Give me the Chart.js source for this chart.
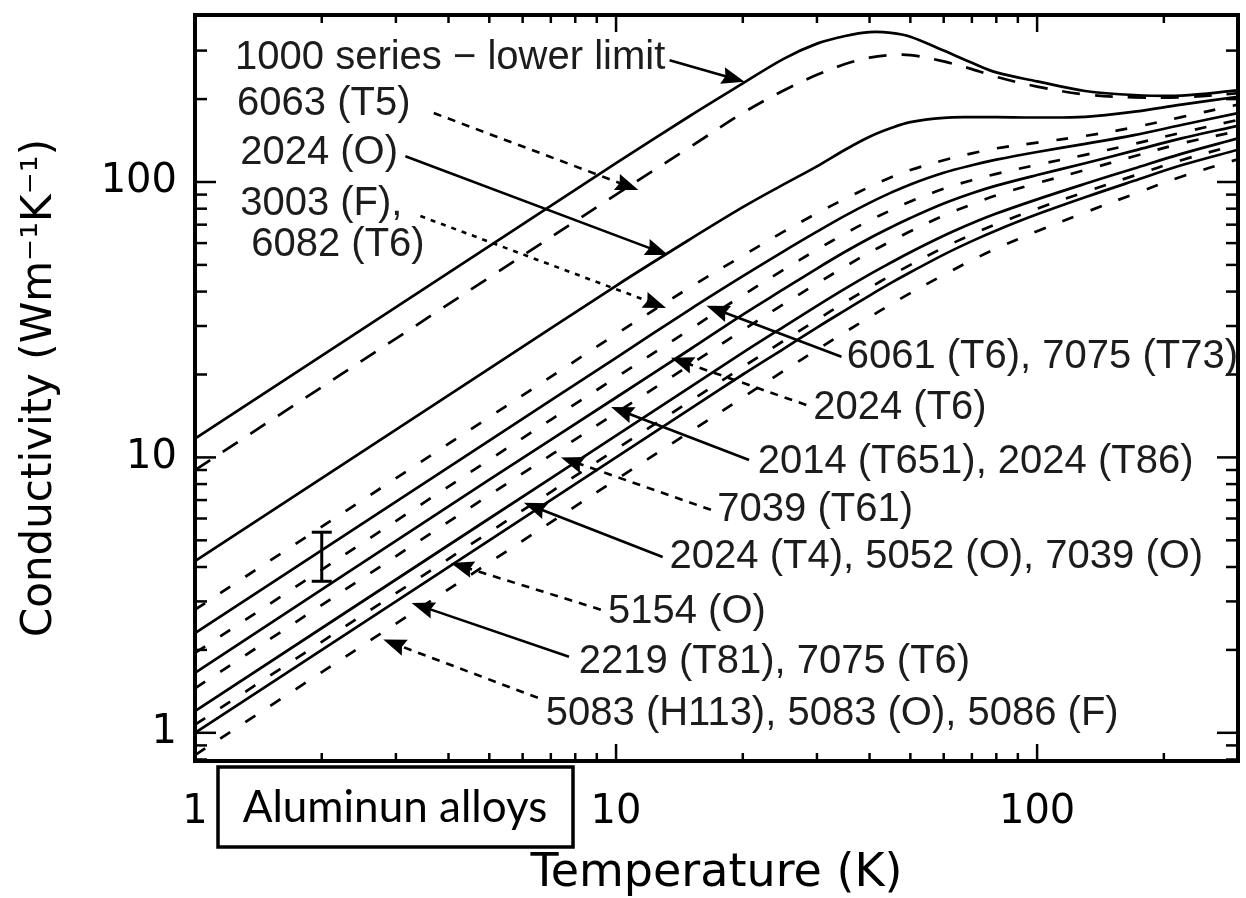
<!DOCTYPE html>
<html>
<head>
<meta charset="utf-8">
<script src="https://cdn.jsdelivr.net/npm/chart.js@4.4.1/dist/chart.umd.min.js"></script>
<style>
  html, body { margin: 0; padding: 0; background: #fff; }
  #wrap { width: 1246px; height: 898px; }
</style>
</head>
<body>
<div id="wrap"><canvas id="myChart" width="1246" height="898"></canvas></div>
<script>
// temperature grid (K) shared by every curve
const temps = [1, 5, 10, 15, 20, 25, 30, 35, 40, 45, 50, 60, 70, 80, 100, 130, 170, 220, 300];

// thermal conductivity (W m^-1 K^-1), top curve to bottom curve
const al1000 = [11.7, 58.5, 117, 174, 228, 280, 318, 339, 350, 348, 337, 300, 271, 250, 232, 214, 207, 206, 215];
const al6063T5 = [9.0, 45, 90, 134, 178, 215, 245, 268, 283, 289, 289, 274, 257, 241, 222, 208, 203, 203, 210];
const al2024O = [4.2, 21, 42, 62, 81, 98, 114, 131, 146, 157, 165, 171, 172, 172, 171.5, 172.5, 180, 191, 204];
const al3003F = [2.8, 14, 28, 41.5, 54, 66, 77, 87, 96, 104, 110.5, 120, 127, 132.5, 139, 147, 158, 172, 191];
const al6061T6 = [2.3, 11.5, 23, 34.5, 45.5, 56, 66, 75.5, 84, 91.5, 98, 108, 115, 120.5, 128.5, 137.5, 148, 161, 178];
const al2024T6 = [1.95, 9.8, 19.5, 29.2, 38.8, 48, 56.8, 65, 72.5, 79, 85, 94.5, 101.5, 107, 115.5, 125.5, 137.5, 151, 168];
const al2014T651 = [1.65, 8.3, 16.5, 24.7, 33, 40.8, 48.5, 55.8, 62.5, 68.5, 74, 83.5, 91, 97, 106, 117, 130, 144, 160];
const al7039T61 = [1.45, 7.3, 14.5, 21.7, 29, 36, 42.8, 49.3, 55.5, 61, 66.2, 75.5, 83, 89.5, 99, 110.5, 124, 138, 153];
const al2024T4 = [1.2, 6.0, 12, 18, 24, 29.8, 35.5, 41, 46.2, 51, 55.6, 63.8, 70.8, 76.8, 86.5, 98.5, 112, 126.5, 144];
const al5154O = [1.07, 5.35, 10.7, 16, 21.3, 26.5, 31.6, 36.6, 41.3, 45.8, 50, 57.8, 64.5, 70.3, 80, 92, 105.5, 120, 137];
const al2219T81 = [1.0, 5.0, 10, 15, 20, 24.8, 29.6, 34.2, 38.7, 43, 47, 54.5, 61, 66.7, 76.3, 88, 101, 115, 131];
const al5083 = [0.83, 4.15, 8.3, 12.4, 16.5, 20.6, 24.6, 28.5, 32.3, 36, 39.5, 46, 52, 57.3, 66.3, 77.5, 90.5, 104.5, 121];

const seriesNames = [
  "1000 series \u2212 lower limit", "6063 (T5)", "2024 (O)", "3003 (F), 6082 (T6)",
  "6061 (T6), 7075 (T73)", "2024 (T6)", "2014 (T651), 2024 (T86)", "7039 (T61)",
  "2024 (T4), 5052 (O), 7039 (O)", "5154 (O)", "2219 (T81), 7075 (T6)",
  "5083 (H113), 5083 (O), 5086 (F)"
];
const seriesValues = [al1000, al6063T5, al2024O, al3003F, al6061T6, al2024T6,
  al2014T651, al7039T61, al2024T4, al5154O, al2219T81, al5083];

// typical scatter shown at 2 K
const errT = 2;
const errLow = 3.55;
const errHigh = 5.35;

// axis ticks
const xTickValues = [1, 2, 3, 4, 5, 6, 7, 8, 9, 10, 20, 30, 40, 50, 60, 70, 80, 90, 100, 200, 300];
const yTickValues = [0.8, 0.9, 1, 2, 3, 4, 5, 6, 7, 8, 9, 10, 20, 30, 40, 50, 60, 70, 80, 90, 100, 200, 300];
const decadeTicks = [1, 10, 100];

// label anchors and arrows, in (temperature, conductivity)
const notes = [
  { text: [seriesNames[0]], at: [1.245, 282], from: [13.4, 277], to: [20.2, 231], dash: [] },
  { text: [seriesNames[1]], at: [1.259, 192], from: [3.69, 178], to: [11.3, 93.5], dash: [8, 7] },
  { text: [seriesNames[2]], at: [1.28, 127], from: [3.16, 124], to: [13.3, 54.3], dash: [] },
  { text: ["3003 (F),", " 6082 (T6)"], at: [1.28, 83.2], from: [3.43, 75.2], to: [13.15, 34.9], dash: [5, 6] },
  { text: [seriesNames[4]], at: [35.3, 23.2], from: [34.3, 23.2], to: [16.4, 35.5], dash: [] },
  { text: [seriesNames[5]], at: [29.4, 15.1], from: [28.3, 15.5], to: [13.5, 23.0], dash: [8, 7] },
  { text: [seriesNames[6]], at: [21.7, 9.63], from: [20.7, 9.79], to: [9.73, 15.25], dash: [] },
  { text: [seriesNames[7]], at: [17.4, 6.45], from: [16.8, 6.45], to: [7.4, 10.0], dash: [8, 7] },
  { text: [seriesNames[8]], at: [13.4, 4.35], from: [12.9, 4.35], to: [6.04, 6.84], dash: [] },
  { text: [seriesNames[9]], at: [9.57, 2.75], from: [9.2, 2.8], to: [4.05, 4.14], dash: [8, 7] },
  { text: [seriesNames[10]], at: [8.16, 1.81], from: [7.73, 1.89], to: [3.27, 2.96], dash: [] },
  { text: [seriesNames[11]], at: [6.81, 1.17], from: [6.52, 1.34], to: [2.8, 2.18], dash: [8, 7] }
];

function line(ctx, x0, y0, x1, y1) {
  ctx.beginPath();
  ctx.moveTo(x0, y0);
  ctx.lineTo(x1, y1);
  ctx.stroke();
}

function arrow(ctx, x0, y0, x1, y1, dash) {
  const ang = Math.atan2(y1 - y0, x1 - x0);
  const c = Math.cos(ang), s = Math.sin(ang);
  const head = 23, half = 8.5;
  const bx = x1 - head * c, by = y1 - head * s;
  ctx.setLineDash(dash);
  line(ctx, x0, y0, bx + 4 * c, by + 4 * s);
  ctx.setLineDash([]);
  ctx.beginPath();
  ctx.moveTo(x1, y1);
  ctx.lineTo(bx - half * s, by + half * c);
  ctx.lineTo(bx + 3 * c, by + 3 * s);
  ctx.lineTo(bx + half * s, by - half * c);
  ctx.closePath();
  ctx.fill();
}

// frame, inward ticks, error bar, arrows and the alloy labels
const annotate = {
  id: "annotate",
  afterDatasetsDraw(chart) {
    const { ctx, chartArea: a, scales: { x, y } } = chart;
    ctx.save();
    ctx.strokeStyle = "#000";
    ctx.fillStyle = "#000";
    ctx.lineCap = "butt";

    ctx.lineWidth = 2.5;
    xTickValues.forEach(v => {
      const px = x.getPixelForValue(v);
      const len = decadeTicks.includes(v) ? 17 : 8;
      line(ctx, px, a.bottom, px, a.bottom - len);
      line(ctx, px, a.top, px, a.top + len);
    });
    yTickValues.forEach(v => {
      const py = y.getPixelForValue(v);
      const len = decadeTicks.includes(v) ? 21 : 12;
      line(ctx, a.left, py, a.left + len, py);
      line(ctx, a.right, py, a.right - len, py);
    });

    // error bar
    ctx.lineWidth = 3;
    const ex = x.getPixelForValue(errT);
    const ey0 = y.getPixelForValue(errLow), ey1 = y.getPixelForValue(errHigh);
    line(ctx, ex, ey0, ex, ey1);
    line(ctx, ex - 10, ey0, ex + 10, ey0);
    line(ctx, ex - 10, ey1, ex + 10, ey1);

    // arrows
    ctx.lineWidth = 2.6;
    notes.forEach(n => {
      arrow(ctx, x.getPixelForValue(n.from[0]), y.getPixelForValue(n.from[1]),
        x.getPixelForValue(n.to[0]), y.getPixelForValue(n.to[1]), n.dash);
    });

    ctx.fillStyle = "#1c1c1c";
    ctx.font = '40px "Liberation Sans", Arial, sans-serif';
    ctx.textAlign = "left";
    ctx.textBaseline = "middle";
    notes.forEach(n => {
      const lx = x.getPixelForValue(n.at[0]);
      const ly = y.getPixelForValue(n.at[1]);
      n.text.forEach((t, i) => ctx.fillText(t, lx, ly + i * 41));
    });

    // plot frame
    ctx.lineWidth = 4;
    ctx.strokeStyle = "#000";
    ctx.strokeRect(a.left, a.top, a.right - a.left, a.bottom - a.top);

    // material tag under the axis
    const bx = a.left + 23, by = a.bottom + 6;
    ctx.lineWidth = 3.5;
    ctx.strokeRect(bx, by, 355, 80);
    ctx.fillStyle = "#000";
    ctx.font = '44px Lato, "Open Sans", sans-serif';
    ctx.textAlign = "center";
    ctx.fillText("Aluminun alloys", bx + 177, by + 41);
    ctx.restore();
  }
};

const datasets = seriesValues.map((vals, i) => ({
  label: seriesNames[i],
  data: temps.map((t, j) => ({ x: t, y: vals[j] })),
  borderColor: "#000",
  borderWidth: 2.7,
  borderDash: i % 2 === 0 ? [] : (i === 1 ? [18, 15] : [12, 18]),
  pointRadius: 0,
  fill: false,
  tension: 0.35
}));

const tickFont = { family: "DejaVu Sans", size: 40 };

var chart = new Chart("myChart", {
  type: "line",
  data: { datasets: datasets },
  plugins: [annotate],
  options: {
    responsive: false,
    animation: false,
    layout: { padding: { top: 15, right: 8, left: 0, bottom: 0 } },
    plugins: { legend: { display: false }, tooltip: { enabled: false } },
    scales: {
      x: {
        type: "logarithmic",
        min: 1,
        max: 300,
        afterBuildTicks: s => { s.ticks = xTickValues.map(v => ({ value: v })); },
        afterFit: s => {
          s.height = 137;
          s.paddingLeft = 0;
          s.paddingRight = 0;
        },
        grid: { display: false, drawTicks: false },
        border: { display: false },
        ticks: {
          autoSkip: false, maxRotation: 0, padding: 28, color: "#000", font: tickFont,
          callback: v => decadeTicks.includes(v) ? String(v) : ""
        },
        title: {
          display: true, text: "Temperature (K)", color: "#000",
          font: { family: "DejaVu Sans", size: 46, lineHeight: 1.0 },
          padding: { top: 0, bottom: 1 }
        }
      },
      y: {
        type: "logarithmic",
        min: 0.79,
        max: 404,
        afterBuildTicks: s => { s.ticks = yTickValues.map(v => ({ value: v })); },
        afterFit: s => {
          s.width = 195;
          s.paddingTop = 0;
          s.paddingBottom = 0;
        },
        grid: { display: false, drawTicks: false },
        border: { display: false },
        ticks: {
          autoSkip: false, padding: 18, color: "#000", font: tickFont,
          callback: v => decadeTicks.includes(v) ? String(v) : ""
        },
        title: {
          display: true, text: "Conductivity (Wm\u207B\u00B9K\u207B\u00B9)", color: "#000",
          font: { family: "DejaVu Sans", size: 42, lineHeight: 1.2 },
          padding: { top: 15, bottom: 0 }
        }
      }
    }
  }
});
</script>
</body>
</html>
